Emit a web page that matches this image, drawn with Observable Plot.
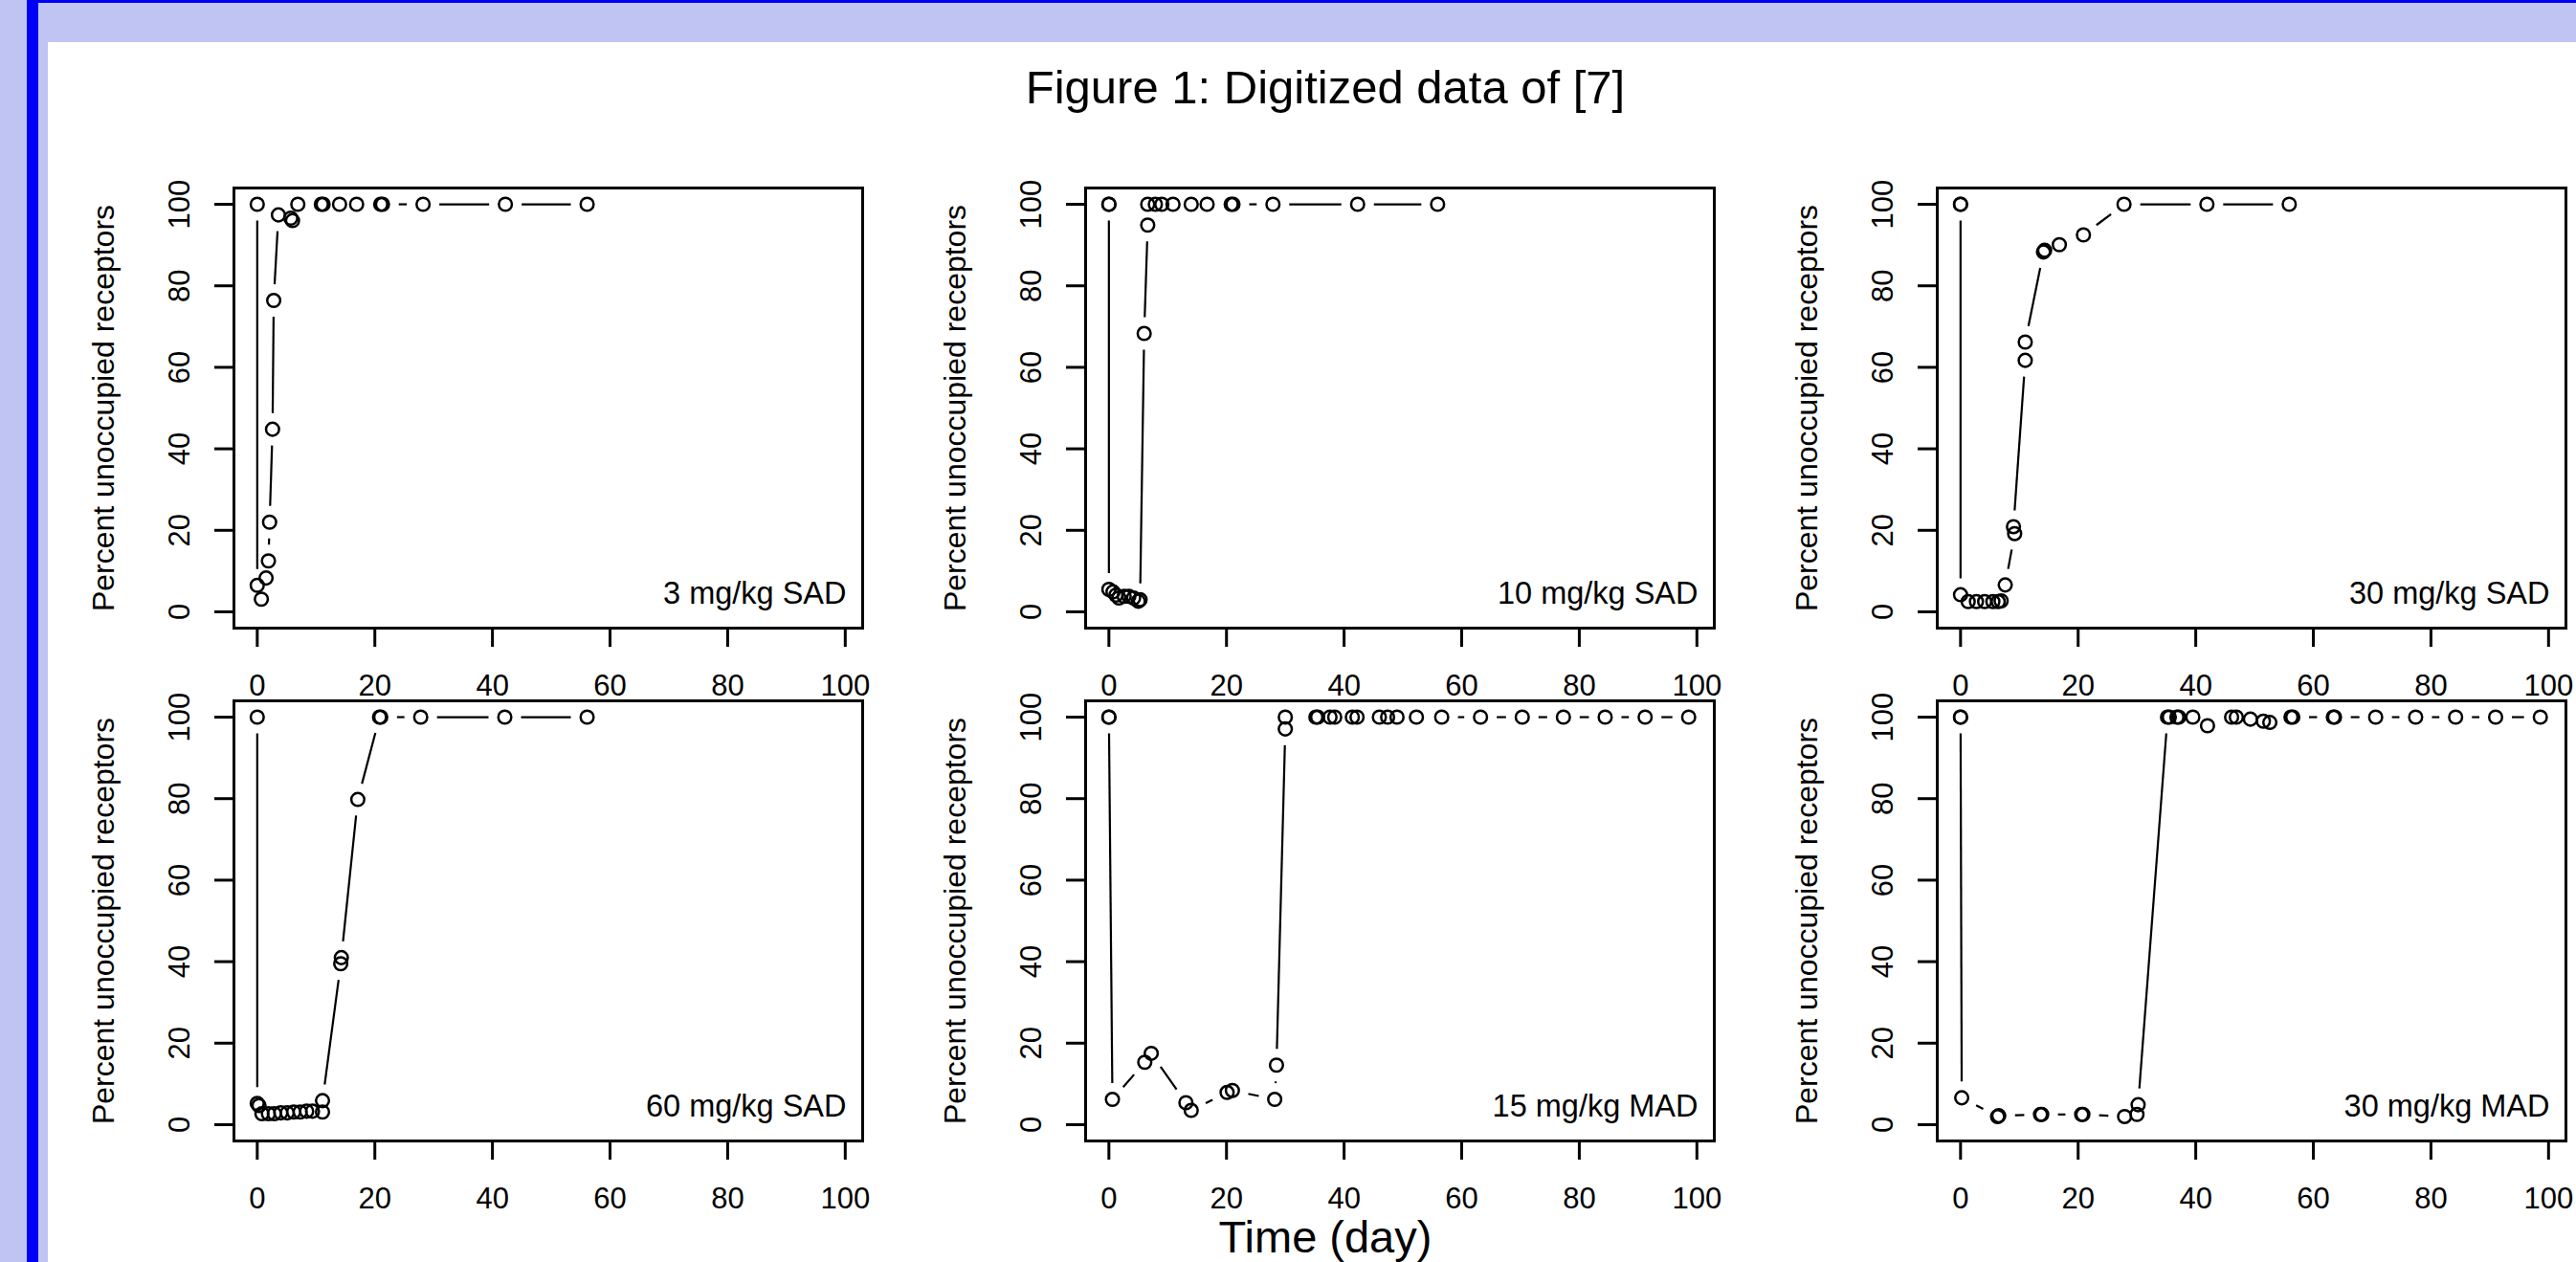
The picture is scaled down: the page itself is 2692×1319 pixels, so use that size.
<!DOCTYPE html>
<html>
<head>
<meta charset="utf-8">
<script src="https://cdn.jsdelivr.net/npm/d3@7"></script>
<script src="https://cdn.jsdelivr.net/npm/@observablehq/plot@0.6"></script>
<style>
  html, body { margin: 0; padding: 0; }
  body { width: 2692px; height: 1319px; overflow: hidden; position: relative; background: #C0C4F2; font-family: "Liberation Sans", Arial, Helvetica, sans-serif; }
  #bar { position: absolute; left: 28px; top: 0; width: 12px; height: 1319px; background: #0000F8; }
  #topline { position: absolute; left: 28px; top: 0; width: 2664px; height: 3px; background: #0000F8; }
  #page { position: absolute; left: 50px; top: 44px; width: 2642px; height: 1275px; background: #ffffff; }
  .ttl { position: absolute; left: 0; width: 2770px; text-align: center; line-height: 1; color: #000; white-space: nowrap; }
  svg.panel { position: absolute; overflow: visible; }
</style>
</head>
<body>
<div id="bar"></div>
<div id="topline"></div>
<div id="page"></div>
<div id="title" class="ttl" style="top:67px;font-size:49px;"></div>
<div id="xtitle" class="ttl" style="top:1269px;font-size:47px;"></div>
<script>
// ---------- text ----------
const figTitle = "Figure 1: Digitized data of [7]";
const xTitle = "Time (day)";
const yTitle = "Percent unoccupied receptors";
const panelLabels = ["3 mg/kg SAD", "10 mg/kg SAD", "30 mg/kg SAD", "60 mg/kg SAD", "15 mg/kg MAD", "30 mg/kg MAD"];
const xTicks = [0, 20, 40, 60, 80, 100];
const yTicks = [0, 20, 40, 60, 80, 100];

// ---------- data (time in days, percent unoccupied receptors) ----------
const sad3Time  = [0, 0, 0.7, 1.5, 1.9, 2.1, 2.6, 2.8, 3.6, 5.7, 6.0, 6.9, 10.9, 11.2, 14.0, 16.9, 21.0, 21.3, 28.2, 42.2, 56.1];
const sad3Value = [100, 6.5, 3.1, 8.3, 12.5, 22.0, 44.8, 76.4, 97.4, 96.6, 96.0, 100, 100, 100, 100, 100, 100, 100, 100, 100, 100];

const sad10Time  = [0, 0, 0, 0.7, 1.2, 1.7, 2.6, 3.4, 4.2, 5.0, 5.3, 6.0, 6.6, 6.6, 7.9, 9.0, 10.9, 14.0, 16.7, 20.8, 21.1, 27.9, 42.3, 55.9];
const sad10Value = [100, 100, 5.5, 4.9, 4.1, 3.4, 3.8, 3.8, 3.4, 2.6, 3.0, 68.3, 94.9, 100, 100, 100, 100, 100, 100, 100, 100, 100, 100, 100];

const sad30Time  = [0, 0, 0, 1.3, 2.7, 4.1, 5.5, 6.4, 6.9, 7.6, 9.2, 9.0, 11.0, 11.0, 14.1, 14.3, 16.8, 20.9, 27.8, 41.9, 55.9];
const sad30Value = [100, 100, 4.2, 2.5, 2.5, 2.5, 2.5, 2.5, 2.7, 6.6, 19.2, 20.9, 61.7, 66.2, 88.3, 88.7, 90.1, 92.5, 100, 100, 100];

const sad60Time  = [0, 0, 0.3, 0.8, 1.9, 2.9, 4.0, 5.1, 6.2, 7.3, 8.4, 9.4, 11.1, 11.1, 14.2, 14.3, 17.1, 20.8, 21.0, 27.8, 42.1, 56.1];
const sad60Value = [100, 5.2, 4.7, 2.7, 2.7, 2.7, 2.9, 2.9, 3.1, 3.1, 3.3, 3.3, 3.1, 5.9, 39.5, 41.0, 79.8, 100, 100, 100, 100, 100];

const mad15Time  = [0, 0, 0.6, 6.1, 7.2, 13.1, 14.0, 20.1, 21.0, 28.2, 28.5, 30.0, 30.0, 35.2, 35.5, 37.6, 38.4, 41.4, 42.2, 46.0, 47.4, 49.0, 52.3, 56.6, 63.2, 70.3, 77.3, 84.4, 91.2, 98.6];
const mad15Value = [100, 100, 6.2, 15.3, 17.5, 5.4, 3.5, 7.9, 8.4, 6.2, 14.6, 97.1, 100, 100, 100, 100, 100, 100, 100, 100, 100, 100, 100, 100, 100, 100, 100, 100, 100, 100];

const mad30Time  = [0, 0, 0.2, 6.3, 6.5, 13.6, 13.8, 20.6, 20.8, 27.9, 30.0, 30.2, 35.2, 35.5, 36.8, 37.1, 39.5, 42.0, 46.1, 46.9, 49.3, 51.5, 52.6, 56.2, 56.5, 63.4, 63.6, 70.6, 77.4, 84.2, 91.0, 98.6];
const mad30Value = [100, 100, 6.6, 2.0, 2.2, 2.5, 2.5, 2.5, 2.5, 2.0, 2.5, 4.9, 100, 100, 100, 100, 100, 97.9, 100, 100, 99.5, 99.0, 98.7, 100, 100, 100, 100, 100, 100, 100, 100, 100];

const seriesTimes  = [sad3Time, sad10Time, sad30Time, sad60Time, mad15Time, mad30Time];
const seriesValues = [sad3Value, sad10Value, sad30Value, sad60Value, mad15Value, mad30Value];

// ---------- layout ----------
const XD = [-3.96, 102.96], YD = [-4, 104];
const FW = 657, FH = 460;
const ML = 240, MR = 14, MT = 14, MB = 90;
const BOX_LEFT = [244.2, 1133.9, 2023.6];
const BOX_TOP = [196.3, 732.2];
const KX = FW / (XD[1] - XD[0]), KY = FH / (YD[1] - YD[0]);
const GAP = 17; // R type="b" gap around points, in px

document.getElementById("title").textContent = figTitle;
document.getElementById("xtitle").textContent = xTitle;

// segments between consecutive points, shortened by the gap (R type = "b")
function gappedSegments(t, v) {
  const out = [];
  for (let i = 1; i < t.length; i++) {
    const ddx = (t[i] - t[i - 1]) * KX, ddy = (v[i] - v[i - 1]) * KY;
    const d = Math.hypot(ddx, ddy);
    if (d <= 2 * GAP) continue;
    const f = GAP / d;
    out.push({
      x1: t[i - 1] + (t[i] - t[i - 1]) * f, y1: v[i - 1] + (v[i] - v[i - 1]) * f,
      x2: t[i] - (t[i] - t[i - 1]) * f, y2: v[i] - (v[i] - v[i - 1]) * f
    });
  }
  return out;
}

for (let i = 0; i < 6; i++) {
  const col = i % 3, row = Math.floor(i / 3);
  const t = seriesTimes[i], v = seriesValues[i];
  const pts = t.map((d, j) => ({t: d, v: v[j]}));
  const segs = gappedSegments(t, v);
  const svg = Plot.plot({
    width: ML + FW + MR,
    height: MT + FH + MB,
    marginLeft: ML, marginRight: MR, marginTop: MT, marginBottom: MB,
    style: {background: "transparent", color: "black", fontFamily: "'Liberation Sans', Arial, Helvetica, sans-serif", overflow: "visible"},
    x: {domain: XD, label: null},
    y: {domain: YD, label: null},
    marks: [
      Plot.frame({stroke: "black", strokeWidth: 3}),
      Plot.axisX({ticks: xTicks, tickSize: 20, tickPadding: 28, fontSize: 31, strokeWidth: 3, label: null}),
      Plot.axisY({ticks: yTicks, tickSize: 20, tickPadding: 27, tickRotate: -90, fontSize: 31, strokeWidth: 3, label: null}),
      Plot.link(segs, {x1: "x1", y1: "y1", x2: "x2", y2: "y2", stroke: "black", strokeWidth: 2.2}),
      Plot.dot(pts, {x: "t", y: "v", r: 6.8, stroke: "black", strokeWidth: 2.5, fill: "none"}),
      Plot.text([panelLabels[i]], {frameAnchor: "bottom-right", textAnchor: "end", lineAnchor: "bottom", dx: -17, dy: -26, fontSize: 32.5, fill: "black"}),
      Plot.text([yTitle], {frameAnchor: "left", rotate: -90, textAnchor: "middle", lineAnchor: "bottom", dx: -126, fontSize: 32, fill: "black"})
    ]
  });
  svg.classList.add("panel");
  svg.style.left = (BOX_LEFT[col] - ML) + "px";
  svg.style.top = (BOX_TOP[row] - MT) + "px";
  svg.style.maxWidth = "none";
  document.body.appendChild(svg);
}
</script>
</body>
</html>
